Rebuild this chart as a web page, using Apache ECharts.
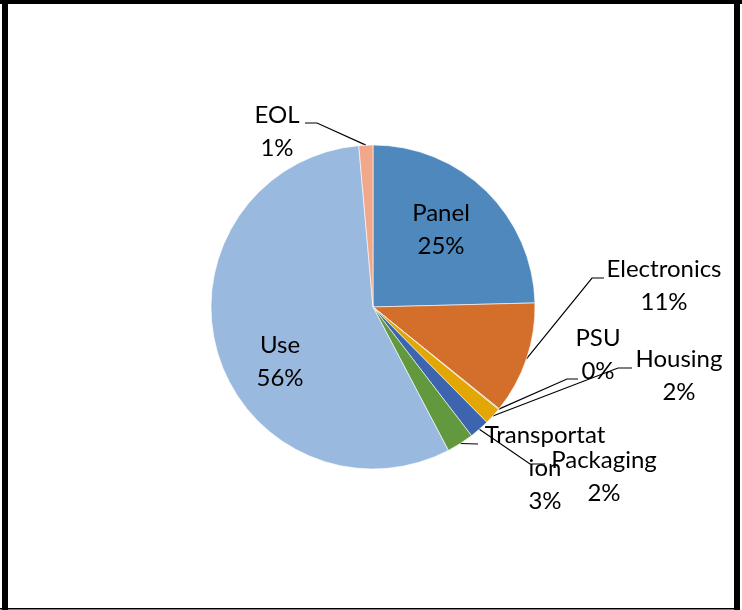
<!DOCTYPE html>
<html>
<head>
<meta charset="utf-8">
<script src="https://cdn.jsdelivr.net/npm/echarts@6/dist/echarts.min.js"></script>
<style>
html,body{margin:0;padding:0;background:#fff;}
#chart{width:742px;height:610px;}
</style>
</head>
<body>
<div id="chart"></div>
<script>
// ---- data ----
var categories = ['Panel', 'Electronics', 'PSU', 'Housing', 'Packaging', 'Transportation', 'Use', 'EOL'];
var labelNames = ['Panel', 'Electronics', 'PSU', 'Housing', 'Packaging', 'Transportat\nion', 'Use', 'EOL'];
var shares = [24.6, 11.2, 0.1, 1.7, 2.0, 2.7, 56.3, 1.4];
var colors = ['#4F88BC', '#D46F2B', '#A5A5A5', '#E2A704', '#3D64AE', '#62993E', '#99B9DF', '#F1A78A'];

// ---- label layout (text block centres and leader bends) ----
var labelPos = [
  {x: 441, y: 230},
  {x: 664, y: 286, bend: [592, 278], end: [604, 278]},
  {x: 598, y: 355, bend: [567, 379], end: [578, 379]},
  {x: 679, y: 376, bend: [618, 368], end: [632, 368]},
  {x: 604, y: 477, bend: [530, 464], end: [545, 464]},
  {x: 545, y: 468, bend: [478, 444], end: [478, 444]},
  {x: 280, y: 362},
  {x: 277, y: 132, bend: [317, 123], end: [305, 123]}
];
var insideIdx = [0, 6];

var chart = echarts.init(document.getElementById('chart'), null, {renderer: 'canvas'});
var data = categories.map(function (c, i) {
  var inside = insideIdx.indexOf(i) >= 0;
  return {
    name: c,
    value: shares[i],
    itemStyle: {color: colors[i]},
    label: {position: inside ? 'inside' : 'outside'},
    labelLine: {show: !inside}
  };
});

chart.setOption({
  animation: false,
  backgroundColor: '#ffffff',
  graphic: [
    {type: 'rect', shape: {x: 0, y: 0, width: 742, height: 4}, style: {fill: '#000'}},
    {type: 'rect', shape: {x: 2, y: 0, width: 6, height: 610}, style: {fill: '#000'}},
    {type: 'rect', shape: {x: 734, y: 0, width: 6, height: 610}, style: {fill: '#000'}},
    {type: 'rect', shape: {x: 0, y: 608, width: 734, height: 1.5}, style: {fill: '#000'}}
  ],
  series: [{
    type: 'pie',
    center: [373, 307],
    radius: [0, 162],
    startAngle: 90,
    clockwise: true,
    avoidLabelOverlap: false,
    itemStyle: {borderColor: '#ffffff', borderWidth: 0.6},
    label: {
      show: true,
      color: '#000',
      fontFamily: 'Lato',
      fontSize: 24,
      lineHeight: 33,
      align: 'center',
      formatter: function (p) {
        return labelNames[p.dataIndex] + '\n' + Math.round(p.value) + '%';
      }
    },
    labelLine: {show: true, length: 10, length2: 10, lineStyle: {color: '#000', width: 1.2}},
    labelLayout: function (p) {
      var lp = labelPos[p.dataIndex];
      var res = {x: lp.x, y: lp.y, align: 'center', verticalAlign: 'middle'};
      if (lp.bend && p.labelLinePoints) {
        res.labelLinePoints = [p.labelLinePoints[0], lp.bend, lp.end];
      }
      return res;
    },
    data: data
  }]
});
</script>
</body>
</html>
